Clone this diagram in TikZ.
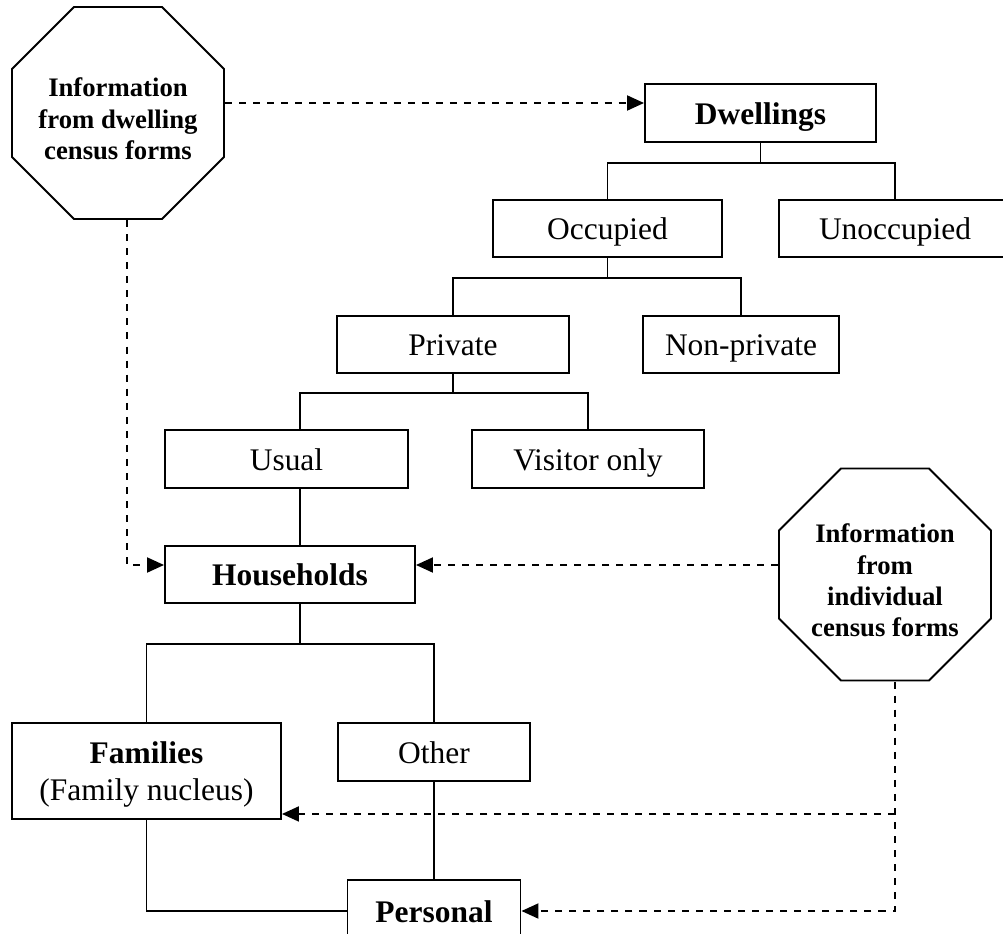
\documentclass[tikz,border=0pt]{standalone}
\usepackage{fontspec}
\setmainfont{Liberation Serif}
\usetikzlibrary{shapes.geometric,arrows.meta}

\begin{document}
\begin{tikzpicture}[
  box/.style={draw,line width=1.1pt,inner sep=0pt,align=center,
    font=\fontsize{17.9}{20.5}\selectfont,text height=15pt,text depth=2pt},
  octa/.style={draw,line width=1.1pt,regular polygon,regular polygon sides=8,
    minimum size=4.59cm,inner sep=0pt},
  octatext/.style={align=center,inner sep=0pt,yshift=-0.12cm,
    font=\fontsize{15.2}{17.8}\selectfont\bfseries},
  tie/.style={line width=1.1pt},
  feed/.style={line width=1.1pt,dash pattern=on 4pt off 4pt,
    -{Triangle[length=0.34cm,width=0.3cm]}}
]
\useasboundingbox (0,0) rectangle (20.06,-18.68);

% sources of information
\node[octa,label={[octatext]center:{Information\\from dwelling\\census forms}}] (info1) at (2.36,-2.26) {};
\node[octa,label={[octatext]center:{Information\\from\\individual\\census forms}}] (info2) at (17.7,-11.49) {};

% dwellings branch
\node[box,minimum width=4.62cm,minimum height=1.16cm] (dwell) at (15.21,-2.26) {\textbf{Dwellings}};
\node[box,minimum width=4.58cm,minimum height=1.14cm] (occ) at (12.15,-4.57) {Occupied};
\node[box,minimum width=4.64cm,minimum height=1.14cm] (unocc) at (17.9,-4.57) {Unoccupied};
\node[box,minimum width=4.64cm,minimum height=1.14cm] (priv) at (9.06,-6.89) {Private};
\node[box,minimum width=3.92cm,minimum height=1.14cm] (nonpriv) at (14.82,-6.89) {Non-private};
\node[box,minimum width=4.86cm,minimum height=1.16cm] (usual) at (5.73,-9.18) {Usual};
\node[box,minimum width=4.64cm,minimum height=1.16cm] (visit) at (11.76,-9.18) {Visitor only};

% households branch
\node[box,minimum width=5cm,minimum height=1.14cm] (hh) at (5.8,-11.49) {\textbf{Households}};
\node[box,minimum width=5.38cm,minimum height=1.92cm,text height=36.5pt,text depth=3.5pt] (fam) at (2.93,-15.42) {\textbf{Families}\\(Family nucleus)};
\node[box,minimum width=3.84cm,minimum height=1.16cm] (other) at (8.68,-15.04) {Other};
\node[box,minimum width=3.46cm,minimum height=1.24cm] (pers) at (8.68,-18.22) {\textbf{Personal}};

% tree lines
\draw[tie] (dwell.south) -- ++(0,-0.4) -| (occ.north);
\draw[tie] (dwell.south) ++(0,-0.4) -| (unocc.north);
\draw[tie] (occ.south) -- ++(0,-0.4) -| (priv.north);
\draw[tie] (occ.south) ++(0,-0.4) -| (nonpriv.north);
\draw[tie] (priv.south) -- ++(0,-0.38) -| ([xshift=0.27cm]usual.north);
\draw[tie] (priv.south) ++(0,-0.38) -| (visit.north);
\draw[tie] ([xshift=0.27cm]usual.south) -- ([xshift=0.2cm]hh.north);
\draw[tie] ([xshift=0.2cm]hh.south) -- ++(0,-0.8) -| (fam.north);
\draw[tie] ([xshift=0.2cm]hh.south) ++(0,-0.8) -| (other.north);
\draw[tie] (other.south) -- (pers.north);
\draw[tie] (fam.south) |- (pers.west);

% information flows
\coordinate (drop) at ([xshift=0.2cm]info2.south);
\coordinate (famin) at ([yshift=0.12cm]fam.south east);
\draw[feed] ([yshift=0.2cm]info1.east) -- ([yshift=0.2cm]dwell.west);
\draw[feed] ([xshift=0.18cm]info1.south) |- ([yshift=0.19cm]hh.west);
\draw[feed] ([yshift=0.19cm]info2.west) -- ([yshift=0.19cm]hh.east);
\draw[feed] (drop) |- (pers.east);
\draw[feed] (drop |- famin) -- (famin);

\end{tikzpicture}
\end{document}
